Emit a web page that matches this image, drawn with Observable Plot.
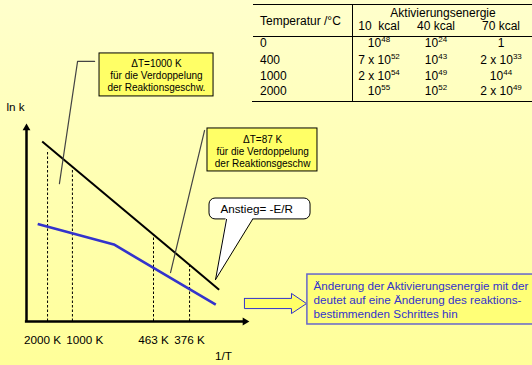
<!DOCTYPE html>
<html>
<head>
<meta charset="utf-8">
<script src="https://cdn.jsdelivr.net/npm/d3@7"></script>
<script src="https://cdn.jsdelivr.net/npm/@observablehq/plot@0.6"></script>
<style>
  html, body { margin: 0; padding: 0; }
  body { width: 532px; height: 365px; overflow: hidden; }
  #chart {
    position: relative; width: 532px; height: 365px; overflow: hidden;
    background: linear-gradient(180deg, #FFFFCC 0%, #FFFF99 100%);
    font-family: "Liberation Sans", Arial, sans-serif;
  }
  #chart svg { position: absolute; left: 0; top: 0; }
  .t { position: absolute; white-space: pre; font-size: 12px; line-height: 14px; color: #000; }
  .t sup { font-size: 8px; vertical-align: baseline; position: relative; top: -5px; }
  .hl { position: absolute; height: 0; border-top: 1px solid #000; }
  .vl { position: absolute; width: 0; border-left: 1px solid #000; }
</style>
</head>
<body>
<div id="chart"></div>
<script>
// Geschwindigkeitskonstanten k bei verschiedenen Aktivierungsenergien
const kcal = ["10  kcal", "40 kcal", "70 kcal"];
const temps = ["0", "400", "1000", "2000"];
const k10 = ["10^48", "7 x 10^52", "2 x 10^54", "10^55"];
const k40 = ["10^24", "10^43", "10^49", "10^52"];
const k70 = ["1", "2 x 10^33", "10^44", "2 x 10^49"];

// Arrhenius-Auftragung (schematisch): 1/T und ln k jeweils in Einheiten 0–10
const blackX = [0.7, 8.6];
const blackY = [9.05, 1.6];
const blueX = [0.5, 3.9, 8.45];
const blueY = [4.9, 3.87, 0.85];

// Markierte Temperaturen auf der 1/T-Achse
const markLabels = ["2000 K", "1000 K", "463 K", "376 K"];
const markX = [0.94, 2.05, 5.67, 7.28];
const markTop = [8.6, 7.72, 4.33, 2.85];
const labelX = [0.71, 2.6, 5.67, 7.28];

// Beschriftungen
const box1Text = "ΔT=1000 K\nfür die Verdoppelung\nder Reaktionsgeschw.";
const box2Text = "ΔT=87 K\nfür die Verdoppelung\nder Reaktionsgeschw";
const slopeText = "Anstieg= -E/R";
const noteText = "Änderung der Aktivierungsenergie mit der\ndeutet auf eine Änderung des reaktions-\nbestimmenden Schrittes hin";

const pts = (xs, ys) => xs.map((x, i) => ({x, y: ys[i]}));
const W = 532, H = 365;
const font = "Liberation Sans, Arial, sans-serif";
const blue = "#3333CC";
const boxFill = "#FFFF66";

// Kästen und Hinweislinien, in Achseneinheiten
const box1 = {x1: 3.26, x2: 8.35, y1: 11.31, y2: 13.47, cx: 5.8, cy: 12.36};
const lead1 = [{x: 3.04, y: 13.07}, {x: 2.28, y: 13.07}, {x: 1.47, y: 6.93}];
const box2 = {x1: 8.08, x2: 12.99, y1: 7.54, y2: 9.7, cx: 10.54, cy: 8.58};
const lead2 = [{x: 7.95, y: 9.6}, {x: 6.43, y: 2.46}];
const bubble = {x1: 8.17, x2: 12.68, y1: 5.13, y2: 6.18, tx: 8.66, ty: 5.66};
const tailL = [{x: 8.93, y: 5.13}, {x: 8.44, y: 2.11}];
const tailR = [{x: 10.09, y: 5.13}, {x: 8.44, y: 2.11}];
const tailFill = [{x: 8.9, y: 5.25}, {x: 10.13, y: 5.25}, {x: 8.44, y: 2.11}, {x: 8.9, y: 5.25}];
const arrowShape = [
  {x: 9.73, y: 1.16}, {x: 11.83, y: 1.16}, {x: 11.83, y: 1.41}, {x: 12.5, y: 0.9},
  {x: 11.83, y: 0.4}, {x: 11.83, y: 0.65}, {x: 9.73, y: 0.65}, {x: 9.73, y: 1.16}
];
const note = {x1: 12.54, x2: 23, y1: -0.15, y2: 2.36, tx: 12.81, ty: 1.1};

const yTip = 9.72, xTip = 9.75;

const svg = Plot.plot({
  width: W,
  height: H,
  marginLeft: 26,
  marginRight: W - 250,
  marginTop: 122,
  marginBottom: H - 321,
  x: {domain: [0, 10], axis: null},
  y: {domain: [0, 10], axis: null},
  style: {background: "transparent", overflow: "visible", fontFamily: font},
  marks: [
    // gestrichelte Lote von der Geraden auf die 1/T-Achse
    Plot.ruleX(pts(markX, markTop), {
      x: "x", y1: 0, y2: "y", stroke: "#000", strokeWidth: 1, strokeDasharray: "2.5,2"
    }),
    // Geraden
    Plot.line(pts(blackX, blackY), {x: "x", y: "y", stroke: "#000", strokeWidth: 2, strokeLinecap: "butt"}),
    Plot.line(pts(blueX, blueY), {x: "x", y: "y", stroke: blue, strokeWidth: 2.6, strokeLinecap: "butt"}),
    // Achsen mit Pfeilspitzen
    Plot.ruleX([0], {y1: 0, y2: yTip, stroke: "#000", strokeWidth: 2.5}),
    Plot.ruleY([0], {x1: -0.05, x2: xTip, stroke: "#000", strokeWidth: 2.5}),
    Plot.dot([{x: 0, y: yTip}], {x: "x", y: "y", symbol: "triangle2", r: 3.7, fill: "#000"}),
    Plot.dot([{x: xTip, y: 0}], {x: "x", y: "y", symbol: "triangle2", r: 3.7, fill: "#000", rotate: 90}),
    // Achsenbeschriftungen
    Plot.text(markLabels.map((t, i) => ({t, x: labelX[i]})), {
      x: "x", y: -0.95, text: "t", fontSize: 11.7, fill: "#000"
    }),
    Plot.text(["1/T"], {x: 8.79, y: -1.76, text: d => d, fontSize: 11.7, fill: "#000"}),
    Plot.text(["ln k"], {x: -0.49, y: 10.75, text: d => d, fontSize: 11.7, fill: "#000"}),
    // Hinweis ΔT = 1000 K
    Plot.line(lead1, {x: "x", y: "y", stroke: "#444", strokeWidth: 1.2}),
    Plot.rect([box1], {x1: "x1", x2: "x2", y1: "y1", y2: "y2", fill: boxFill, stroke: "#000", strokeWidth: 1}),
    Plot.text([box1Text], {x: box1.cx, y: box1.cy, text: d => d, fontSize: 10, lineHeight: 1.2, fill: "#000"}),
    // Hinweis ΔT = 87 K
    Plot.line(lead2, {x: "x", y: "y", stroke: "#444", strokeWidth: 1.2}),
    Plot.rect([box2], {x1: "x1", x2: "x2", y1: "y1", y2: "y2", fill: boxFill, stroke: "#000", strokeWidth: 1}),
    Plot.text([box2Text], {x: box2.cx, y: box2.cy, text: d => d, fontSize: 10, lineHeight: 1.2, fill: "#000"}),
    // Sprechblase zur Steigung
    Plot.rect([bubble], {x1: "x1", x2: "x2", y1: "y1", y2: "y2", rx: 6, fill: "#fff", stroke: "#000", strokeWidth: 1}),
    Plot.line(tailFill, {x: "x", y: "y", fill: "#fff", stroke: "none"}),
    Plot.line(tailL, {x: "x", y: "y", stroke: "#000", strokeWidth: 1}),
    Plot.line(tailR, {x: "x", y: "y", stroke: "#000", strokeWidth: 1}),
    Plot.text([slopeText], {x: bubble.tx, y: bubble.ty, text: d => d, textAnchor: "start", fontSize: 11.7, fill: "#000"}),
    // Pfeil und Erläuterung
    Plot.line(arrowShape, {x: "x", y: "y", fill: boxFill, stroke: blue, strokeWidth: 1, strokeLinejoin: "miter"}),
    Plot.rect([note], {x1: "x1", x2: "x2", y1: "y1", y2: "y2", fill: "#FFFF77", stroke: "#6666CC", strokeWidth: 1.5}),
    Plot.text([noteText], {x: note.tx, y: note.ty, text: d => d, textAnchor: "start", fontSize: 11.7, lineHeight: 1.2, fill: blue})
  ]
});

const chart = d3.select("#chart");
chart.node().append(svg);

// Tabelle oben rechts
const sup = s => s.replace(/\^(\d+)/g, "<sup>$1</sup>");
const put = (html, x, y, anchor) => {
  const d = chart.append("div").attr("class", "t").html(html).style("top", (y - 7) + "px");
  if (anchor === "start") d.style("left", x + "px");
  else d.style("left", x + "px").style("transform", "translateX(-50%)");
  return d;
};
const hline = (x1, x2, y, w) => chart.append("div").attr("class", "hl")
  .style("left", x1 + "px").style("width", (x2 - x1) + "px").style("top", y + "px")
  .style("border-top-width", (w || 1) + "px");
const vline = (x, y1, y2) => chart.append("div").attr("class", "vl")
  .style("left", x + "px").style("top", y1 + "px").style("height", (y2 - y1) + "px");

const colX = [379, 436, 501];
const rowY = [43, 60, 76, 91];
hline(253, 532, 4, 1);
hline(253, 532, 36, 1);
hline(252, 532, 101, 1);
vline(352, 4, 102);
put("Temperatur /°C", 260, 21, "start");
put("Aktivierungsenergie", 443, 13);
kcal.forEach((k, i) => put(k, colX[i], 26));
temps.forEach((t, i) => put(t, 260, rowY[i], "start"));
[k10, k40, k70].forEach((col, j) => col.forEach((v, i) => put(sup(v), colX[j], rowY[i])));
</script>
</body>
</html>
